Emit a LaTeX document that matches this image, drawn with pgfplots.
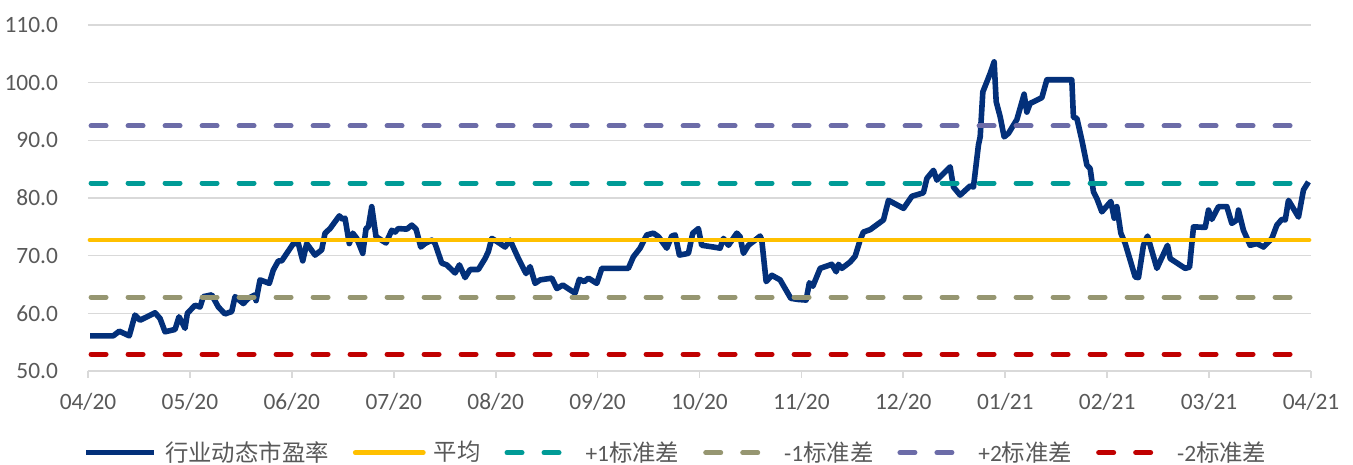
\documentclass[border=0pt]{standalone}
\usepackage{fontspec}
\setmainfont{Carlito}
\newfontfamily\cjk{Noto Sans CJK SC}
\usepackage{pgfplots}
\pgfplotsset{compat=1.18}
\definecolor{navyline}{HTML}{03307A}
\definecolor{meanc}{HTML}{FFC000}
\definecolor{tealc}{HTML}{009B96}
\definecolor{olivec}{HTML}{969671}
\definecolor{purplec}{HTML}{6C6CA8}
\definecolor{redc}{HTML}{C00000}
\definecolor{txt}{HTML}{595959}
\definecolor{gridc}{HTML}{D9D9D9}
\begin{document}
\begin{tikzpicture}
\useasboundingbox (0,0) rectangle (676.5pt,232.5pt);
\begin{axis}[
  at={(44pt,47pt)}, anchor=south west,
  scale only axis, width=611.5pt, height=173pt,
  xmin=0, xmax=12, ymin=50, ymax=110,
  xtick={0,1,...,12},
  xticklabels={04/20,05/20,06/20,07/20,08/20,09/20,10/20,11/20,12/20,01/21,02/21,03/21,04/21},
  ytick={50,60,...,110},
  axis lines*=left,
  x axis line style={draw=gridc, line width=0.9pt},
  y axis line style={draw=none},
  ytick style={draw=none},
  xtick style={draw=gridc, line width=0.9pt},
  tick align=outside, major tick length=3.5pt,
  ymajorgrids, grid style={draw=gridc, line width=0.75pt},
  tick label style={font=\fontsize{11.7}{14}\selectfont, text=txt},
  xticklabel style={yshift=-4pt},
  yticklabel style={xshift=-8pt},
  /pgf/number format/.cd, fixed, fixed zerofill, precision=1, assume math mode=true,
  /pgfplots/.cd,
  legend columns=6,
  legend style={at={(-0.004,-0.236)}, anchor=west, draw=none, fill=none, inner sep=0pt,
    font=\fontsize{11.7}{14}\selectfont, text=txt,
    nodes={inner sep=0pt, anchor=west},
    /tikz/every odd column/.append style={column sep=4pt},
    /tikz/every even column/.append style={column sep=12pt}},
  legend image code/.code={\draw[#1] (0pt,0pt) -- (34pt,0pt);},
  clip=false,
]
\addplot[navyline, line width=2.8pt, line join=round] coordinates {
(0.020,56.1) (0.248,56.1) (0.307,56.9) (0.405,56.1) (0.461,59.7) (0.510,58.8)
(0.658,60.1) (0.707,59.1) (0.756,56.8) (0.854,57.2) (0.893,59.4) (0.952,57.4)
(0.975,60.0) (1.050,61.4) (1.099,61.1) (1.132,62.9) (1.214,63.2) (1.279,61.1)
(1.344,59.9) (1.410,60.3) (1.443,62.9) (1.524,61.7) (1.573,62.6) (1.639,63.2)
(1.649,62.2) (1.688,65.8) (1.779,65.2) (1.818,67.5) (1.868,69.1) (1.901,69.1)
(2.015,72.1) (2.064,72.1) (2.107,69.1) (2.146,72.1) (2.228,70.1) (2.293,71.0)
(2.326,73.9) (2.375,74.7) (2.466,76.9) (2.499,76.3) (2.522,76.5) (2.564,72.1)
(2.598,73.9) (2.637,73.0) (2.696,70.4) (2.728,74.7) (2.751,75.0) (2.784,78.5)
(2.826,73.3) (2.924,72.2) (2.980,74.4) (3.013,74.1) (3.045,74.7) (3.128,74.6)
(3.177,75.3) (3.219,74.6) (3.265,71.5) (3.307,72.1) (3.373,72.7) (3.405,72.1)
(3.471,68.7) (3.520,68.4) (3.602,67.0) (3.644,68.4) (3.700,66.2) (3.749,67.6)
(3.830,67.6) (3.896,69.5) (3.928,70.7) (3.962,73.0) (4.043,72.1) (4.092,71.5)
(4.141,72.7) (4.223,69.5) (4.298,66.9) (4.338,68.1) (4.387,65.2) (4.436,65.8)
(4.551,66.1) (4.600,64.3) (4.659,64.9) (4.779,63.5) (4.821,65.9) (4.868,65.5)
(4.910,66.1) (4.992,65.2) (5.041,67.8) (5.302,67.8) (5.351,69.8) (5.417,71.3)
(5.483,73.6) (5.548,73.9) (5.597,73.3) (5.679,71.3) (5.728,73.4) (5.761,73.6)
(5.803,70.1) (5.891,70.4) (5.934,73.9) (5.989,74.7) (6.022,71.8) (6.136,71.5)
(6.202,71.3) (6.235,73.0) (6.284,71.8) (6.366,73.9) (6.398,73.3) (6.431,70.4)
(6.480,71.8) (6.546,72.7) (6.595,73.4) (6.611,72.7) (6.654,65.5) (6.710,66.6)
(6.791,65.8) (6.840,64.3) (6.896,62.6) (6.971,62.4) (7.046,62.3) (7.078,65.3)
(7.112,64.7) (7.184,67.8) (7.298,68.5) (7.341,67.2) (7.363,68.5) (7.397,67.8)
(7.478,68.9) (7.527,69.9) (7.576,72.7) (7.608,74.1) (7.674,74.5) (7.805,76.2)
(7.854,79.6) (8.002,78.2) (8.084,80.3) (8.197,80.9) (8.231,83.4) (8.296,84.8)
(8.329,83.1) (8.459,85.4) (8.492,81.9) (8.557,80.5) (8.656,82.1) (8.688,81.9)
(8.737,89.2) (8.754,90.6) (8.780,98.4) (8.852,101.6) (8.891,103.6) (8.911,96.7)
(8.950,94.1) (8.989,90.6) (9.031,91.2) (9.114,93.6) (9.185,98.0) (9.212,94.9)
(9.244,96.4) (9.359,97.4) (9.408,100.5) (9.653,100.5) (9.669,94.0) (9.703,93.8)
(9.752,90.0) (9.801,85.7) (9.833,85.1) (9.865,81.1) (9.899,79.9) (9.948,77.6)
(10.036,79.4) (10.069,76.5) (10.095,78.5) (10.134,73.9) (10.177,72.1) (10.226,69.2)
(10.275,66.3) (10.307,66.2) (10.356,71.8) (10.396,73.4) (10.488,67.8) (10.592,71.8)
(10.618,69.5) (10.765,67.8) (10.808,68.0) (10.847,75.0) (10.962,74.9) (10.994,77.9)
(11.027,76.3) (11.092,78.5) (11.174,78.5) (11.223,75.6) (11.273,76.2) (11.288,77.9)
(11.337,74.4) (11.403,71.8) (11.469,72.1) (11.534,71.5) (11.616,73.0) (11.665,75.3)
(11.714,76.3) (11.747,76.2) (11.779,79.6) (11.877,76.7) (11.926,81.4) (11.975,82.8)
};
\addlegendentry{\cjk 行业动态市盈率}
\addplot[meanc, line width=2.4pt, line cap=round] coordinates {(0.02,72.7) (11.98,72.7)};
\addlegendentry{\cjk 平均}
\addplot[tealc, line width=2.5pt, line cap=round, dash pattern=on 7.5pt off 11pt] coordinates {(0.03,82.6) (12,82.6)};
\addlegendentry{+1\cjk 标准差}
\addplot[olivec, line width=2.5pt, line cap=round, dash pattern=on 7.5pt off 11pt] coordinates {(0.03,62.8) (12,62.8)};
\addlegendentry{-1\cjk 标准差}
\addplot[purplec, line width=2.5pt, line cap=round, dash pattern=on 7.5pt off 11pt] coordinates {(0.03,92.5) (12,92.5)};
\addlegendentry{+2\cjk 标准差}
\addplot[redc, line width=2.5pt, line cap=round, dash pattern=on 7.5pt off 11pt] coordinates {(0.03,52.9) (12,52.9)};
\addlegendentry{-2\cjk 标准差}
\end{axis}
\end{tikzpicture}
\end{document}
